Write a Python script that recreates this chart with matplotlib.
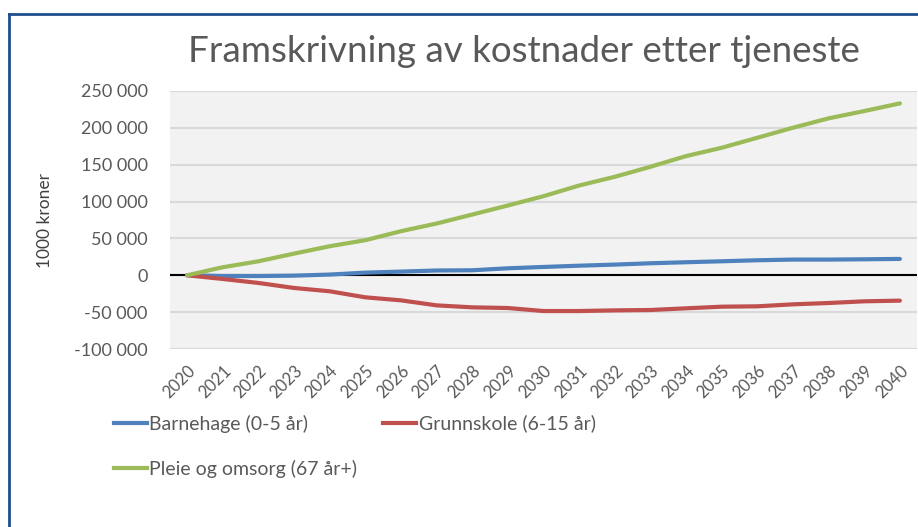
import matplotlib.pyplot as plt
import matplotlib.ticker as mticker
from matplotlib.lines import Line2D

years = list(range(2020, 2041))
barnehage = [0, -1, -1, -0.5, 1, 3.6, 5, 6.5, 6.8, 9.5, 11.3, 13, 14.5, 16.3, 17.7,
             19, 20.4, 21.3, 21.3, 21.7, 22.2]
grunnskole = [0, -5, -10.4, -17.2, -21.7, -29.9, -34, -40.8, -43.5, -44.4, -48.5,
              -48.5, -47.6, -47.1, -44.8, -42.6, -42.1, -39.4, -37.6, -35.3, -34.4]
pleie = [0, 10.9, 19, 29.4, 39.4, 47.6, 59.8, 70.2, 82.4, 94.7, 107.3, 121.8, 133.6,
         147.2, 161.7, 173, 186.6, 200.2, 212.9, 222.8, 233.2]
# values are in 1000s of 1000 kroner
barnehage = [v * 1000 for v in barnehage]
grunnskole = [v * 1000 for v in grunnskole]
pleie = [v * 1000 for v in pleie]

labels = ["Barnehage (0-5 år)", "Grunnskole (6-15 år)", "Pleie og omsorg (67 år+)"]
colors = ["#4f81bd", "#c0504d", "#9bbb59"]

plt.rcParams['font.family'] = ['Lato', 'DejaVu Sans']
txt = "#595959"

fig = plt.figure(figsize=(9.18, 5.27), dpi=100)
ax = fig.add_axes([170 / 918, 1 - 349 / 527, (917 - 170) / 918, (349 - 91) / 527])
ax.set_facecolor("#f2f2f2")

x = list(range(len(years)))
for series, c in zip([barnehage, grunnskole, pleie], colors):
    ax.plot(x, series, color=c, lw=3.0, solid_capstyle='round', zorder=3)
ax.axhline(0, color="black", lw=1.5, zorder=2)

ax.set_xlim(-0.48, len(years) - 0.52)
ax.set_ylim(-100000, 250000)
ax.set_yticks(range(-100000, 250001, 50000))
ax.yaxis.set_major_formatter(mticker.FuncFormatter(lambda v, p: f"{int(v):,}".replace(",", " ")))
ax.grid(axis='y', color="#d9d9d9", lw=1.5)
ax.set_axisbelow(True)
for s in ax.spines.values():
    s.set_visible(False)
ax.tick_params(length=0)
ax.tick_params(axis='y', labelsize=13, labelcolor=txt, pad=16)
ax.set_xticks(x)
ax.set_xticklabels([str(y) for y in years], rotation=45, ha='right', va='top',
                   rotation_mode='anchor', fontsize=12, color=txt)
ax.tick_params(axis='x', pad=10)

fig.text(45 / 918, 1 - 220 / 527, "1000 kroner", rotation=90, ha='center', va='center',
         fontsize=12.5, color="#404040")
fig.text(524 / 918, 1 - 52 / 527, "Framskrivning av kostnader etter tjeneste",
         ha='center', va='center', fontsize=26.5, color=txt)

# legend fills column-wise, so order entries to get two per row
order = [0, 2, 1]
handles = [Line2D([], [], color=colors[i], lw=3.0) for i in order]
fig.legend(handles, [labels[i] for i in order], loc='upper left',
           bbox_to_anchor=(96 / 918, 1 - 397 / 527),
           ncol=2, frameon=False, fontsize=14, labelcolor=txt, handlelength=1.7,
           handletextpad=0.15, columnspacing=1.3, labelspacing=1.42)

# chart frame: top and left edges
fig.add_artist(Line2D([9 / 918, 1], [1 - 14 / 527] * 2, color="#1f4e8c", lw=2))
fig.add_artist(Line2D([9 / 918] * 2, [0, 1 - 14 / 527], color="#1f4e8c", lw=2))

fig.savefig("out.png", dpi=100)
